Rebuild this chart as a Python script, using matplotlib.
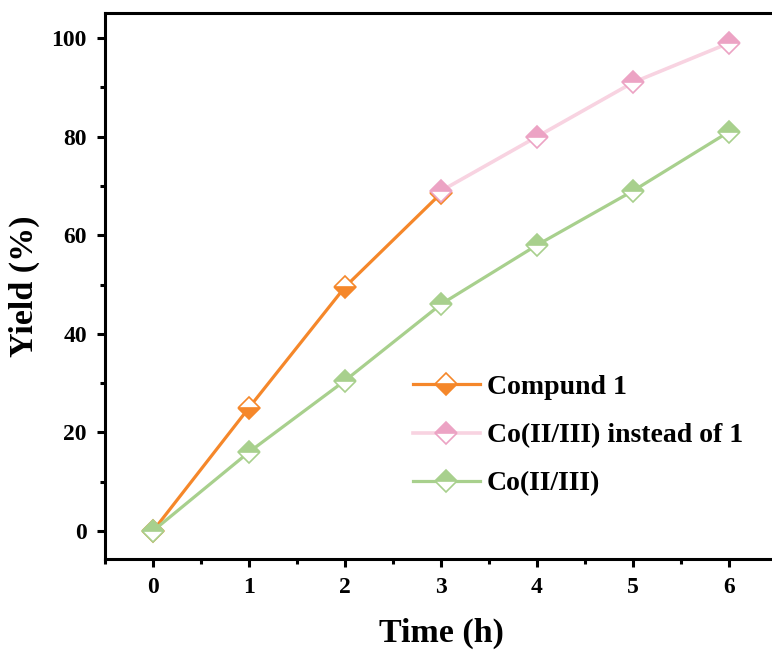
import matplotlib
matplotlib.use("Agg")
import matplotlib.pyplot as plt
from matplotlib.ticker import MultipleLocator

plt.rcParams['font.family'] = ['Liberation Serif', 'DejaVu Serif']
plt.rcParams['font.weight'] = 'bold'

# Reaction yield over time
time_c1 = [0, 1, 2, 3]
yield_c1 = [0, 25, 49.5, 68.5]

time_co_sub = [3, 4, 5, 6]
yield_co_sub = [69, 80, 91, 99]

time_co = [0, 1, 2, 3, 4, 5, 6]
yield_co = [0, 16, 30.5, 46, 58, 69, 81]

labels = ["Compund 1", "Co(II/III) instead of 1", "Co(II/III)"]
x_ticks = [0, 1, 2, 3, 4, 5, 6]
y_ticks = [0, 20, 40, 60, 80, 100]

orange = "#F5872A"
pink_line = "#F8D3E1"
pink_mark = "#ECA3C4"
green = "#A8D08D"

fig = plt.figure(figsize=(7.72, 6.53), dpi=100)
ax = fig.add_axes([105 / 772, 1 - 559 / 653, 672 / 772, 546 / 653])

ms = 11
mew = 1.2
ax.plot(time_c1, yield_c1, color=orange, lw=2.3, marker='D', ms=ms,
        fillstyle='bottom', markerfacecolor=orange, markerfacecoloralt='white',
        markeredgecolor=orange, markeredgewidth=mew, label=labels[0], zorder=3)
ax.plot(time_co_sub, yield_co_sub, color=pink_line, lw=2.6, marker='D', ms=ms,
        fillstyle='top', markerfacecolor=pink_mark, markerfacecoloralt='white',
        markeredgecolor=pink_mark, markeredgewidth=mew, label=labels[1], zorder=4)
ax.plot(time_co, yield_co, color=green, lw=2.3, marker='D', ms=ms,
        fillstyle='top', markerfacecolor=green, markerfacecoloralt='white',
        markeredgecolor=green, markeredgewidth=mew, label=labels[2], zorder=5)

ax.set_xlim(-0.5, 6.5)
ax.set_ylim(-5.7, 105.1)
ax.set_xticks(x_ticks)
ax.set_yticks(y_ticks)
ax.xaxis.set_minor_locator(MultipleLocator(0.5))
ax.yaxis.set_minor_locator(MultipleLocator(10))

for side in ax.spines.values():
    side.set_linewidth(2.2)
ax.spines['right'].set_visible(False)
ax.tick_params(which='major', direction='out', length=6, width=2.2,
               labelsize=17, pad=7)
ax.tick_params(which='minor', direction='out', length=3.5, width=2.2)
for lab in ax.get_xticklabels() + ax.get_yticklabels():
    lab.set_fontweight('bold')

ax.set_xlabel("Time (h)", fontsize=24.5, fontweight='bold', labelpad=14)
ax.set_ylabel("Yield (%)", fontsize=24.5, fontweight='bold', labelpad=8)

leg = ax.legend(loc='lower left', bbox_to_anchor=(0.442, 0.094), frameon=False,
                fontsize=20, handlelength=2.4, handletextpad=0.25,
                labelspacing=0.82, borderaxespad=0)
for t in leg.get_texts():
    t.set_fontweight('bold')

fig.savefig("out.png", dpi=100)
